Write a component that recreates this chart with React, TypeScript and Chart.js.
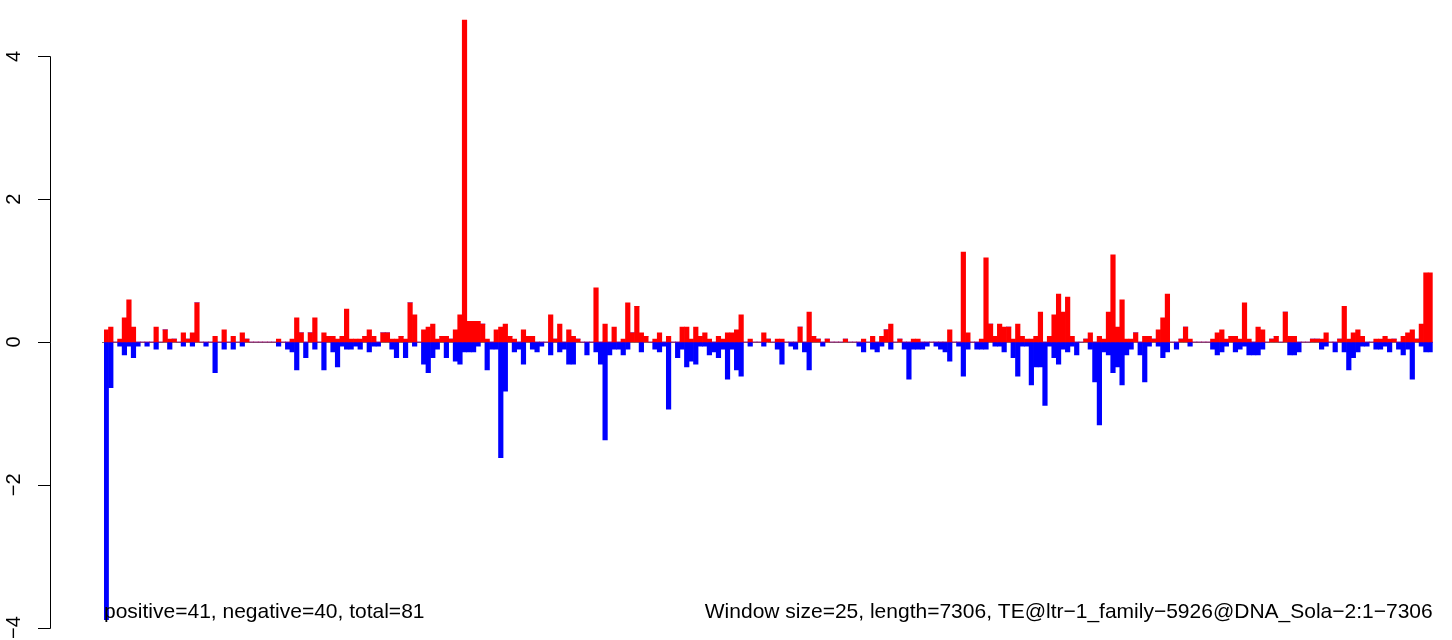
import React, { useEffect, useRef } from "react";
import { Chart, registerables } from "chart.js";

Chart.register(...registerables);

// window index (window size = 25 over length 7306 -> 293 windows)
const positive: number[] = [
  0.17, 0.21, 0, 0.04, 0.34, 0.59, 0.21, 0, 0, 0,
  0, 0.21, 0, 0.17, 0.04, 0.04, 0, 0.13, 0.04, 0.13,
  0.55, 0, 0, 0, 0.08, 0, 0.17, 0, 0.08, 0,
  0.13, 0.04, 0, 0, 0, 0, 0, 0, 0.04, 0,
  0, 0.04, 0.34, 0.13, 0, 0.13, 0.34, 0, 0.13, 0.08,
  0.08, 0.04, 0.08, 0.46, 0.04, 0.04, 0.04, 0.08, 0.17, 0.08,
  0, 0.13, 0.13, 0.04, 0.04, 0.08, 0.04, 0.55, 0.38, 0,
  0.17, 0.21, 0.25, 0.04, 0.08, 0.08, 0.04, 0.17, 0.38, 4.51,
  0.29, 0.29, 0.29, 0.25, 0.04, 0, 0.17, 0.21, 0.25, 0.08,
  0.04, 0, 0.17, 0.08, 0.08, 0, 0, 0, 0.38, 0.04,
  0.25, 0, 0.17, 0.08, 0.04, 0, 0, 0, 0.76, 0,
  0.25, 0, 0.21, 0, 0.04, 0.55, 0.13, 0.5, 0.13, 0.08,
  0, 0.04, 0.13, 0, 0.08, 0, 0, 0.21, 0.21, 0.04,
  0.21, 0.08, 0.13, 0.04, 0, 0.08, 0.04, 0.13, 0.13, 0.17,
  0.38, 0, 0.04, 0, 0, 0.13, 0.04, 0, 0.04, 0.04,
  0, 0, 0, 0.21, 0, 0.42, 0.08, 0.04, 0, 0.04,
  0, 0, 0, 0.04, 0, 0, 0, 0.04, 0, 0.08,
  0, 0.08, 0.17, 0.25, 0, 0.04, 0, 0, 0.04, 0.04,
  0, 0, 0, 0, 0, 0, 0.17, 0, 0, 1.26,
  0.13, 0, 0, 0.04, 1.18, 0.25, 0.08, 0.25, 0.21, 0.21,
  0.04, 0.25, 0.08, 0.04, 0.04, 0.08, 0.42, 0, 0.08, 0.38,
  0.67, 0.42, 0.63, 0.08, 0, 0, 0.04, 0.13, 0, 0.08,
  0.04, 0.42, 1.22, 0.21, 0.59, 0.04, 0.04, 0.13, 0, 0.08,
  0.08, 0.04, 0.17, 0.34, 0.67, 0, 0, 0.04, 0.21, 0.04,
  0, 0, 0, 0, 0.04, 0.13, 0.17, 0.04, 0.08, 0.08,
  0.04, 0.55, 0.04, 0, 0.21, 0.17, 0, 0.04, 0.08, 0,
  0.42, 0.08, 0.08, 0, 0, 0, 0.04, 0.04, 0.04, 0.13,
  0, 0, 0.04, 0.5, 0.04, 0.13, 0.17, 0.08, 0, 0,
  0.04, 0.04, 0.08, 0.04, 0.04, 0, 0.08, 0.13, 0.17, 0.04,
  0.25, 0.97, 0.97,
];

const negative: number[] = [
  -3.89, -0.64, 0, -0.06, -0.18, -0.06, -0.22, -0.06, 0, -0.06,
  0, -0.1, 0, 0, -0.1, 0, 0, -0.06, 0, -0.06,
  0, 0, -0.06, 0, -0.43, 0, -0.1, 0, -0.1, 0,
  -0.06, 0, 0, 0, 0, 0, 0, 0, -0.06, 0,
  -0.1, -0.14, -0.39, 0, -0.22, 0, -0.1, 0, -0.39, 0,
  -0.14, -0.35, -0.06, -0.1, -0.1, -0.06, -0.1, 0, -0.14, -0.06,
  -0.06, 0, 0, -0.1, -0.22, 0, -0.22, 0, -0.06, 0,
  -0.31, -0.43, -0.22, -0.1, 0, -0.22, 0, -0.27, -0.31, -0.14,
  -0.14, -0.14, -0.06, 0, -0.39, -0.1, -0.1, -1.62, -0.69, 0,
  -0.14, -0.1, -0.31, 0, -0.1, -0.14, -0.06, 0, -0.18, 0,
  -0.14, -0.1, -0.31, -0.31, 0, 0, -0.18, 0, -0.14, -0.31,
  -1.37, -0.18, -0.1, -0.1, -0.18, -0.1, 0, 0, -0.14, 0,
  0, -0.1, -0.14, -0.06, -0.94, 0, -0.22, -0.1, -0.35, -0.27,
  -0.31, -0.06, -0.06, -0.18, -0.14, -0.22, -0.1, -0.52, -0.1, -0.39,
  -0.48, 0, -0.06, 0, 0, -0.06, 0, 0, -0.1, -0.31,
  0, -0.06, -0.1, 0, -0.14, -0.39, 0, 0, -0.06, 0,
  0, 0, 0, 0, 0, 0, -0.06, -0.14, 0, -0.1,
  -0.14, -0.06, 0, -0.1, 0, 0, -0.1, -0.52, -0.1, -0.1,
  -0.1, -0.06, 0, -0.06, -0.1, -0.14, -0.27, 0, -0.06, -0.48,
  -0.1, 0, -0.1, -0.1, -0.1, 0, -0.06, -0.06, -0.14, 0,
  -0.22, -0.48, -0.06, -0.06, -0.6, -0.35, -0.35, -0.89, -0.06, -0.22,
  -0.31, -0.1, -0.14, -0.06, -0.18, 0, 0, -0.1, -0.56, -1.16,
  -0.14, -0.18, -0.43, -0.35, -0.6, -0.18, -0.1, 0, -0.18, -0.56,
  -0.06, 0, -0.06, -0.22, -0.14, 0, -0.1, 0, 0, -0.06,
  0, 0, 0, 0, -0.1, -0.18, -0.14, -0.06, 0, -0.14,
  -0.1, -0.06, -0.18, -0.18, -0.18, -0.1, 0, 0, 0, 0,
  0, -0.18, -0.18, -0.14, 0, 0, 0, 0, -0.1, -0.06,
  0, -0.14, 0, -0.14, -0.39, -0.22, -0.14, -0.06, -0.06, 0,
  -0.1, -0.1, -0.06, -0.14, 0, -0.1, -0.18, -0.1, -0.52, 0,
  -0.06, -0.14, -0.14,
];

const windows: string[] = positive.map((_, i) => String(i + 1));

const yTicks: number[] = [4, 2, 0, -2, -4];
const yTickLabels: string[] = ["4", "2", "0", "\u22122", "\u22124"];

const leftNote = "positive=41, negative=40, total=81";
const rightNote =
  "Window size=25, length=7306, TE@ltr\u22121_family\u22125926@DNA_Sola\u22122:1\u22127306";

const FONT = '"Liberation Sans", Arial, Helvetica, sans-serif';

const rAxisPlugin = {
  id: "rAxis",
  beforeDatasetsDraw(chart: any) {
    const { ctx, chartArea, scales } = chart;
    const y = scales.y;
    const y0 = Math.round(y.getPixelForValue(0)) + 0.5;
    ctx.save();
    ctx.strokeStyle = "#777777";
    ctx.lineWidth = 1;
    ctx.beginPath();
    ctx.moveTo(chartArea.left - 2, y0);
    ctx.lineTo(chartArea.right, y0);
    ctx.stroke();
    ctx.restore();
  },
  afterDraw(chart: any) {
    const { ctx, chartArea, scales } = chart;
    const y = scales.y;
    const axisX = 50.5;
    ctx.save();
    ctx.strokeStyle = "#000000";
    ctx.lineWidth = 1;
    ctx.beginPath();
    const top = Math.round(y.getPixelForValue(yTicks[0])) + 0.5;
    const bottom = Math.round(y.getPixelForValue(yTicks[yTicks.length - 1])) + 0.5;
    ctx.moveTo(axisX, top);
    ctx.lineTo(axisX, bottom);
    yTicks.forEach((t) => {
      const py = Math.round(y.getPixelForValue(t)) + 0.5;
      ctx.moveTo(axisX, py);
      ctx.lineTo(38, py);
    });
    ctx.stroke();

    ctx.fillStyle = "#000000";
    ctx.font = `20px ${FONT}`;
    yTicks.forEach((t, i) => {
      const py = y.getPixelForValue(t);
      ctx.save();
      ctx.translate(20, py);
      ctx.rotate(-Math.PI / 2);
      ctx.textAlign = "center";
      ctx.textBaseline = "alphabetic";
      ctx.fillText(yTickLabels[i], 0, 0);
      ctx.restore();
    });

    ctx.font = `21px ${FONT}`;
    ctx.textBaseline = "alphabetic";
    ctx.textAlign = "left";
    ctx.fillText(leftNote, chartArea.left, 618);
    ctx.textAlign = "right";
    ctx.fillText(rightNote, chartArea.right, 618);
    ctx.restore();
  },
};

export default function App() {
  const ref = useRef<HTMLCanvasElement | null>(null);

  useEffect(() => {
    document.body.style.margin = "0";
    if (!ref.current) return;
    const chart = new Chart(ref.current, {
      type: "bar",
      data: {
        labels: windows,
        datasets: [
          {
            label: "positive",
            data: positive,
            backgroundColor: "#FF0000",
            borderWidth: 0,
            barPercentage: 1,
            categoryPercentage: 1,
          },
          {
            label: "negative",
            data: negative,
            backgroundColor: "#0000FF",
            borderWidth: 0,
            barPercentage: 1,
            categoryPercentage: 1,
          },
        ],
      },
      options: {
        animation: false,
        responsive: false,
        devicePixelRatio: 1,
        layout: { padding: { left: 104, right: 19.3, top: 0, bottom: 0 } },
        plugins: {
          legend: { display: false },
          tooltip: { enabled: false },
        },
        scales: {
          x: { display: false, stacked: true },
          y: { display: false, stacked: true, min: -4.174, max: 4.79 },
        },
      },
      plugins: [rAxisPlugin],
    });
    return () => chart.destroy();
  }, []);

  return (
    <div style={{ position: "absolute", left: 0, top: 0, width: 1452, height: 640, background: "#fff" }}>
      <canvas ref={ref} width={1452} height={640} />
    </div>
  );
}
